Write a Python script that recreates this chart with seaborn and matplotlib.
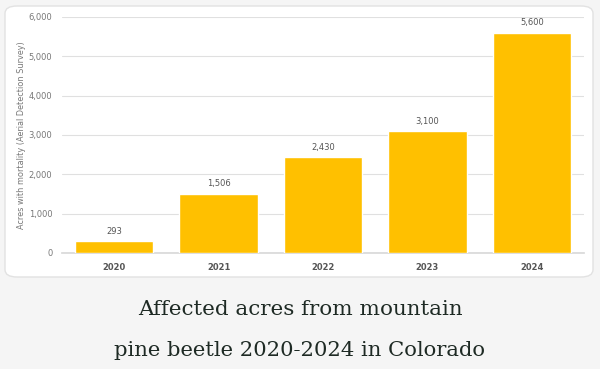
import matplotlib
matplotlib.use("Agg")
import matplotlib.pyplot as plt
import seaborn as sns
import pandas as pd
from matplotlib.patches import FancyBboxPatch

years = ["2020", "2021", "2022", "2023", "2024"]
acres = [293, 1506, 2430, 3100, 5600]
value_labels = ["293", "1,506", "2,430", "3,100", "5,600"]
yticks = [0, 1000, 2000, 3000, 4000, 5000, 6000]
ytick_labels = ["0", "1,000", "2,000", "3,000", "4,000", "5,000", "6,000"]
title_lines = ["Affected acres from mountain", "pine beetle 2020-2024 in Colorado"]

df = pd.DataFrame({"year": years, "acres": acres})

sns.set_theme(style="white")
W, H = 600, 369
fig = plt.figure(figsize=(6, 3.69), dpi=100, facecolor="#f5f5f5")

panel = FancyBboxPatch((5 / W, 1 - 277 / H), 588 / W, 271 / H,
                       boxstyle="round,pad=0,rounding_size=0.02",
                       transform=fig.transFigure, facecolor="white",
                       edgecolor="#e2e2e2", linewidth=1, zorder=-10)
fig.patches.append(panel)

ax = fig.add_axes([62 / W, 1 - 253 / H, 522 / W, 236 / H])
ax.set_facecolor("none")
ax.patch.set_alpha(0)
sns.barplot(data=df, x="year", y="acres", color="#FFC000", saturation=1,
            width=0.75, ax=ax, zorder=3)
ax.set_ylim(0, 6000)
ax.set_yticks(yticks)
ax.set_yticklabels(ytick_labels, fontsize=6, color="#777777")
ax.yaxis.grid(True, color="#e0e0e0", linewidth=0.8, zorder=0)
ax.set_axisbelow(True)
ax.xaxis.grid(False)
for s in ["top", "right", "left"]:
    ax.spines[s].set_visible(False)
ax.spines["bottom"].set_color("#d9d9d9")
ax.tick_params(axis="x", length=0, pad=7)
ax.tick_params(axis="y", length=0, pad=7)
for lbl in ax.get_xticklabels():
    lbl.set_fontsize(6)
    lbl.set_fontweight("bold")
    lbl.set_color("#555555")
ax.set_xlabel("")
ax.set_ylabel("Acres with mortality (Aerial Detection Survey)", fontsize=5.9,
              color="#777777", labelpad=2)
ax.bar_label(ax.containers[0], labels=value_labels, fontsize=6,
             color="#555555", padding=4)

fig.text(0.5, 1 - 315 / H, title_lines[0], ha="center", va="baseline",
         fontsize=15.4, family="DejaVu Serif", color="#1e2a24")
fig.text(0.5, 1 - 356 / H, title_lines[1], ha="center", va="baseline",
         fontsize=15.2, family="DejaVu Serif", color="#1e2a24")

fig.savefig("out.png", dpi=100, facecolor=fig.get_facecolor())
